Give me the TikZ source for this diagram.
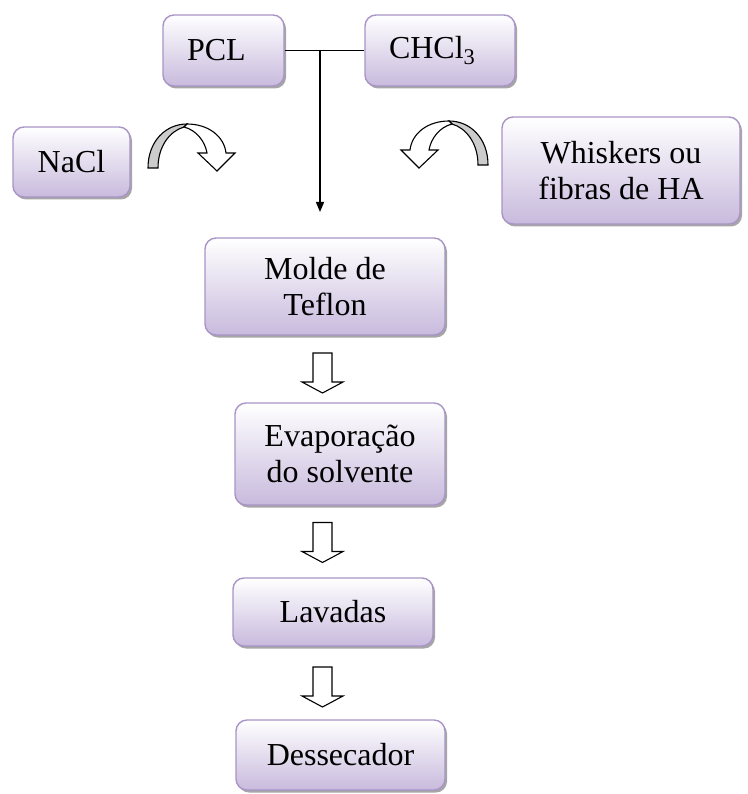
\documentclass[tikz,border=0pt]{standalone}
\usepackage{fontspec}
\setmainfont{Liberation Serif}
\usepackage{xcolor}
\usepackage{tikz}
\usetikzlibrary{arrows.meta,shadows,calc}

\definecolor{boxbot}{RGB}{200,186,221}
\definecolor{boxline}{RGB}{168,148,198}

\tikzset{
  stepbox/.style={draw=boxline, line width=1.4pt, rounded corners=11pt,
    top color=white, bottom color=boxbot, align=center, inner sep=0pt,
    font=\fontsize{32}{36}\selectfont,
    drop shadow={shadow xshift=2pt, shadow yshift=-2.5pt, fill=gray!70, opacity=1}},
  leftbox/.style={stepbox, align=left, inner xsep=24pt},
  curvarr/.pic={
    \draw[line width=1.1pt, fill=gray!40] (-42,-22) .. controls (-42,5) and (-24,22) .. (-3,22)
      -- (-6,19) .. controls (-20,15) and (-32,0) .. (-32,-22) -- cycle;
    \draw[line width=1.1pt, fill=white] (-3,22) .. controls (18,22) and (34,10) .. (36,-7)
      -- (45,-7) -- (27,-25) -- (8,-7) -- (17,-7) .. controls (15,5) and (6,16) .. (-6,19) -- cycle;
  },
  downarr/.pic={
    \draw[line width=1.1pt, fill=white] (-9.5,20) -- (9.5,20) -- (9.5,-9) -- (20.5,-9)
      -- (0,-20) -- (-20.5,-9) -- (-9.5,-9) -- cycle;
  }
}

\begin{document}
\begin{tikzpicture}[x=1pt,y=1pt]
		\useasboundingbox (0,0) rectangle (747,-794);
		\node[leftbox, text width=73pt, minimum height=71pt] (PCL) at (223.5,-50.5) {PCL};
		\node[leftbox, text width=102pt, minimum height=71pt] (CHCl) at (440,-50.5) {CHCl\textsubscript{3}};
		\node[stepbox, minimum width=117pt, minimum height=70pt] (NaCl) at (71.5,-162) {NaCl};
		\node[stepbox, minimum width=238pt, minimum height=107pt] (HA) at (621,-170.5) {Whiskers ou\\fibras de HA};
		\node[stepbox, minimum width=240pt, minimum height=97pt] (Molde) at (325,-286.5) {Molde de\\Teflon};
		\node[stepbox, minimum width=210pt, minimum height=102pt] (Evap) at (340,-454) {Evaporação\\do solvente};
		\node[stepbox, minimum width=200pt, minimum height=68pt] (Lav) at (333,-612) {Lavadas};
		\node[stepbox, minimum width=209pt, minimum height=70pt] (Dess) at (340.5,-755) {Dessecador};
		%
		\coordinate (split) at (320,-50.5);
		\coordinate (drop) at (320,-212);
		\draw[line width=1.4pt] (PCL.east) -- (CHCl.west);
		\draw[line width=1.4pt, -{Triangle[length=10pt,width=8pt]}] (split) -- (drop);
		%
		\pic at (190,-146) {curvarr};
		\pic[xscale=-1] at (446,-143) {curvarr};
		\foreach \y in {373,542.5,687}
			\pic at (322.5,-\y) {downarr};
		\end{tikzpicture}
\end{document}
